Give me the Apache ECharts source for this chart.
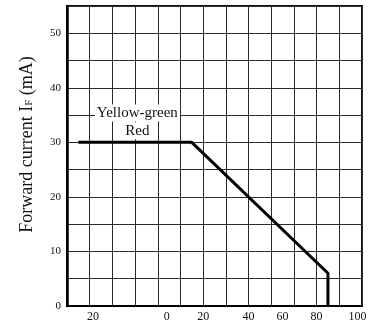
<!DOCTYPE html>
<html>
<head>
<meta charset="utf-8">
<script src="https://cdn.jsdelivr.net/npm/echarts@6/dist/echarts.min.js"></script>
<style>html,body{margin:0;padding:0;background:#fff;}#c{width:381px;height:327px;}</style>
</head>
<body>
<div id="c"></div>
<script>
// Derating curve: ambient temperature (°C) vs forward current (mA)
var temps = [-25, 25, 85, 85];
var currents = [30, 30, 6, 0];
// x tick labels as printed (minus sign lost in the print) and where they sit on the axis
var xTickLabels = ['20', '0', '20', '40', '60', '80', '100'];
var xTickAt = [-18.5, 14, 30, 50, 65, 80, 98];
var yTickLabels = ['0', '10', '20', '30', '40', '50'];
var yTickAt = [0, 10, 20, 30, 40, 50];
var curveNames = ['Yellow-green', 'Red'];
var curveNameAt = [[1, 35.4], [1, 32.1]];
var yTitle = 'Forward current I';
var yTitleSub = 'F';
var yTitleUnit = ' (mA)';

var chart = echarts.init(document.getElementById('c'), null, {renderer: 'canvas'});
var serif = '"Liberation Serif", "DejaVu Serif", serif';
var lineData = temps.map(function (t, i) { return [t, currents[i]]; });

chart.setOption({
  animation: false,
  backgroundColor: '#fff',
  grid: {
    left: 67, right: 19, top: 6, bottom: 21,
    show: true, borderColor: '#111', borderWidth: 2,
    containLabel: false, outerBoundsMode: 'none'
  },
  xAxis: {
    type: 'value', min: -30, max: 100, interval: 10,
    axisLine: {show: true, onZero: false, lineStyle: {color: '#000', width: 2}},
    axisTick: {show: false},
    splitLine: {show: true, lineStyle: {color: '#2a2a2a', width: 1}},
    axisLabel: {
      customValues: xTickAt,
      margin: 5,
      fontFamily: serif, fontSize: 12, color: '#111',
      formatter: function (v) {
        var i = xTickAt.indexOf(v);
        return i >= 0 ? xTickLabels[i] : '';
      }
    }
  },
  yAxis: {
    type: 'value', min: 0, max: 55, interval: 5,
    axisLine: {show: true, onZero: false, lineStyle: {color: '#000', width: 2.5}},
    axisTick: {show: false},
    splitLine: {show: true, lineStyle: {color: '#2a2a2a', width: 1}},
    axisLabel: {
      customValues: yTickAt,
      margin: 6,
      fontFamily: serif, fontSize: 11, color: '#111',
      formatter: function (v) {
        var i = yTickAt.indexOf(v);
        return i >= 0 ? yTickLabels[i] : '';
      }
    },
    name: '{a|' + yTitle + '}{s|' + yTitleSub + '}{a|' + yTitleUnit + '}',
    nameLocation: 'middle',
    nameRotate: 90,
    nameGap: 30,
    nameTextStyle: {
      padding: [0, 0, 0, 23],
      rich: {
        a: {fontFamily: serif, fontSize: 18, color: '#111', lineHeight: 20},
        s: {fontFamily: serif, fontSize: 11, color: '#111', lineHeight: 20, verticalAlign: 'bottom', padding: [0, 0, 2, 0]}
      }
    }
  },
  series: [{
    type: 'line',
    data: lineData,
    symbol: 'none',
    lineStyle: {color: '#000', width: 3},
    z: 5,
    markPoint: {
      symbol: 'rect', symbolSize: 0,
      silent: true,
      label: {
        show: true, position: 'inside',
        fontFamily: serif, fontSize: 15, color: '#111',
        backgroundColor: '#fff', padding: [1, 2]
      },
      data: curveNames.map(function (n, i) {
        return {coord: curveNameAt[i], value: n, label: {formatter: n}};
      })
    }
  }]
});
</script>
</body>
</html>
